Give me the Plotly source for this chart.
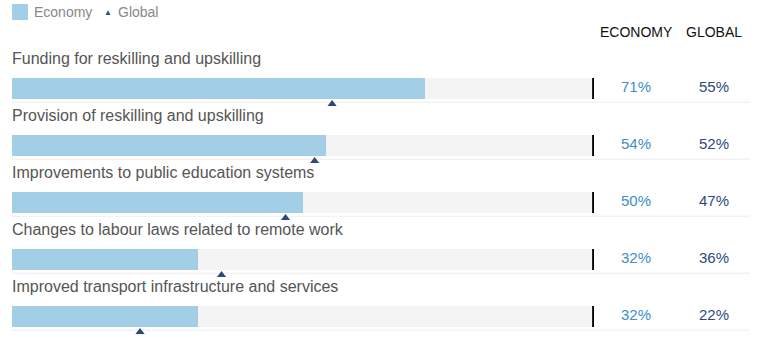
import plotly.graph_objects as go

categories = [
    "Funding for reskilling and upskilling",
    "Provision of reskilling and upskilling",
    "Improvements to public education systems",
    "Changes to labour laws related to remote work",
    "Improved transport infrastructure and services",
]
economy = [71, 54, 50, 32, 32]
global_ = [55, 52, 47, 36, 22]

W, H = 758, 338
ECON_COLOR = "#a2cee6"
TRACK = "#f4f4f4"
GLOBAL_COLOR = "#2b4a7b"
ECON_TXT = "#3d8ec9"
FONT = "Liberation Sans, Arial, sans-serif"


def px(x):
    return x / W


def py(y):
    return 1 - y / H


rows = list(range(len(categories)))
track = [100] * len(categories)

fig = go.Figure()
fig.add_trace(go.Bar(x=track, y=rows, orientation="h", marker=dict(color=TRACK, line_width=0),
                     width=0.37, hoverinfo="skip", showlegend=False))
fig.add_trace(go.Bar(x=economy, y=rows, orientation="h", marker=dict(color=ECON_COLOR, line_width=0),
                     width=0.37, name="Economy", showlegend=False))
fig.add_trace(go.Scatter(x=global_, y=[r + 0.27 for r in rows], mode="markers",
                         marker=dict(symbol="triangle-up", size=8, color=GLOBAL_COLOR),
                         name="Global", showlegend=False))

x0 = px(12)
x1 = px(594)
annotations = []
shapes = []
for i, (c, e, g) in enumerate(zip(categories, economy, global_)):
    annotations.append(dict(x=x0, y=i - 0.53, xref="paper", yref="y", text=c, showarrow=False,
                            xanchor="left", yanchor="middle", xshift=-2,
                            font=dict(size=16, color="#555555", family=FONT)))
    annotations.append(dict(x=px(636), y=i, xref="paper", yref="y", text=f"{e}%", showarrow=False,
                            xanchor="center", yanchor="middle", yshift=2,
                            font=dict(size=15, color=ECON_TXT, family=FONT)))
    annotations.append(dict(x=px(714), y=i, xref="paper", yref="y", text=f"{g}%", showarrow=False,
                            xanchor="center", yanchor="middle", yshift=2,
                            font=dict(size=15, color=GLOBAL_COLOR, family=FONT)))
    shapes.append(dict(type="line", xref="x", yref="y", x0=99.85, x1=99.85, y0=i - 0.185, y1=i + 0.185,
                       line=dict(color="black", width=2)))
    shapes.append(dict(type="line", xref="paper", yref="y", x0=x0, x1=px(750), y0=i + 0.24, y1=i + 0.24,
                       line=dict(color="#ececec", width=1), layer="below"))

# headers
annotations.append(dict(x=px(636), y=py(32), xref="paper", yref="paper", text="ECONOMY", showarrow=False,
                        xanchor="center", yanchor="middle", font=dict(size=14, color="#111111", family=FONT)))
annotations.append(dict(x=px(714), y=py(32), xref="paper", yref="paper", text="GLOBAL", showarrow=False,
                        xanchor="center", yanchor="middle", font=dict(size=14, color="#111111", family=FONT)))
# legend
shapes.append(dict(type="rect", xref="paper", yref="paper", x0=px(12), x1=px(28), y0=py(20), y1=py(4),
                   fillcolor=ECON_COLOR, line_width=0))
annotations.append(dict(x=px(32), y=py(12), xref="paper", yref="paper", text="Economy", showarrow=False,
                        xanchor="left", yanchor="middle", font=dict(size=14, color="#888888", family=FONT)))
annotations.append(dict(x=px(108), y=py(13), xref="paper", yref="paper", text="▲", showarrow=False,
                        xanchor="center", yanchor="middle", font=dict(size=8, color=GLOBAL_COLOR, family=FONT)))
annotations.append(dict(x=px(116), y=py(12), xref="paper", yref="paper", text="Global", showarrow=False,
                        xanchor="left", yanchor="middle", font=dict(size=14, color="#888888", family=FONT)))

# rows centred at pixel y = 88.5 + 57*i
yr0 = (H - 88.5) / 57
yr1 = -88.5 / 57
fig.update_layout(
    width=W, height=H, margin=dict(l=0, r=0, t=0, b=0),
    paper_bgcolor="white", plot_bgcolor="white",
    barmode="overlay", bargap=0,
    xaxis=dict(domain=[x0, x1], range=[0, 100], visible=False, fixedrange=True),
    yaxis=dict(domain=[0, 1], range=[yr0, yr1], visible=False, fixedrange=True),
    annotations=annotations, shapes=shapes, showlegend=False,
)
fig.write_html("out.html", config={"displayModeBar": False},
               post_script="document.body.style.margin='0';document.body.style.overflow='hidden';")
